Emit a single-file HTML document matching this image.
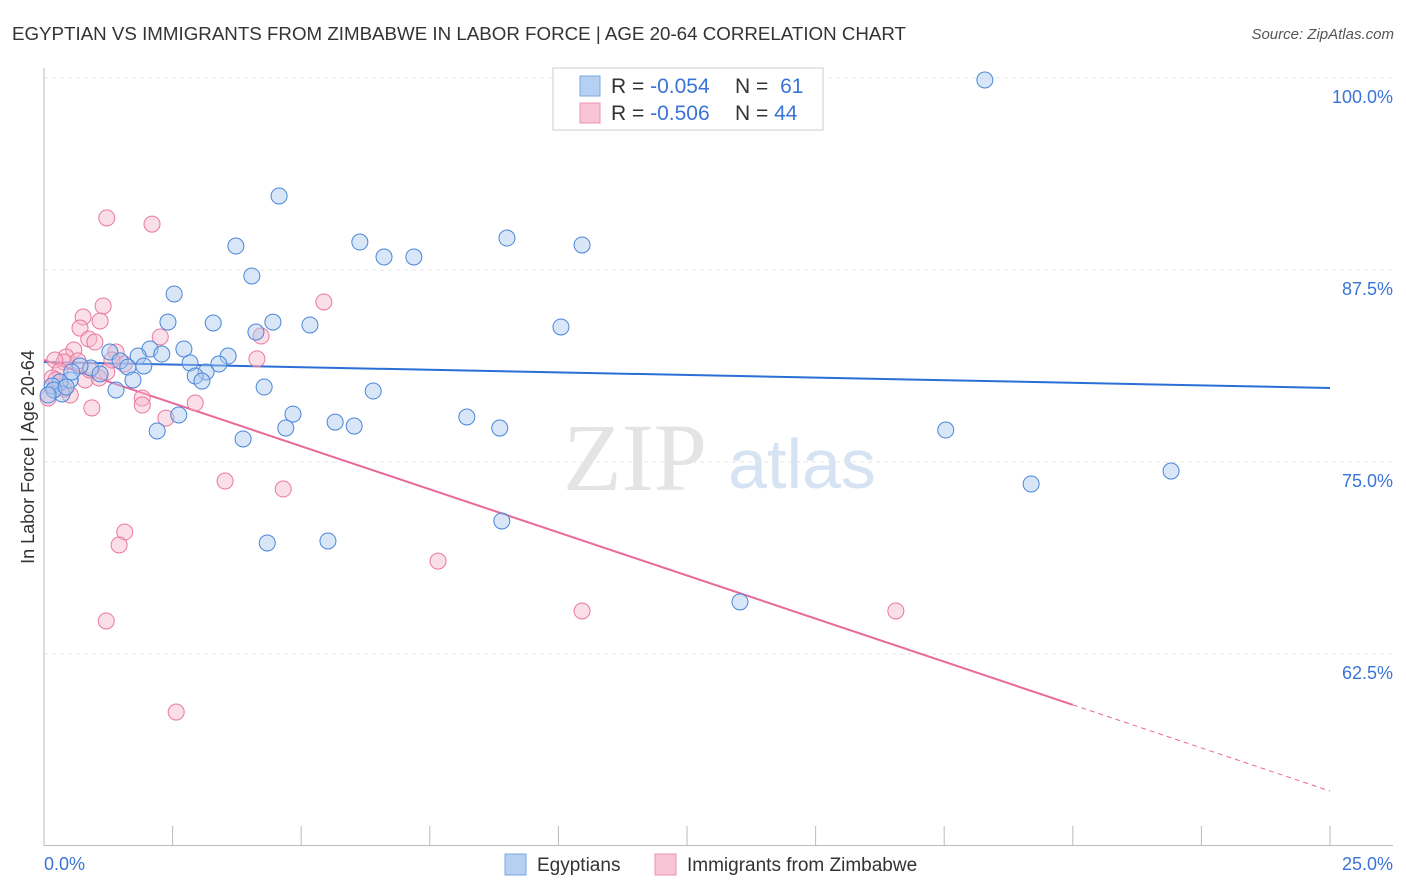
<!DOCTYPE html>
<html><head><meta charset="utf-8">
<style>
body{margin:0;background:#fff;font-family:"Liberation Sans",sans-serif;}
#wrap{position:relative;width:1406px;height:892px;overflow:hidden;}
</style></head>
<body>
<div id="wrap">
<svg id="chart" width="1406" height="892" xmlns="http://www.w3.org/2000/svg">
  <text x="12" y="40" font-size="18" fill="#333" textLength="894" lengthAdjust="spacingAndGlyphs">EGYPTIAN VS IMMIGRANTS FROM ZIMBABWE IN LABOR FORCE | AGE 20-64 CORRELATION CHART</text>
  <text x="1394" y="39" font-size="15" fill="#555" font-style="italic" text-anchor="end">Source: ZipAtlas.com</text>
  <g>
    <text x="635" y="490" font-size="96" fill="#e4e4e4" font-family="Liberation Serif,serif" text-anchor="middle">ZIP</text>
    <text x="802" y="488" font-size="70" fill="#d6e3f3" text-anchor="middle">atlas</text>
  </g>
  <g id="grid"></g>
  <g id="axes"></g>
  <g id="lines"></g>
  <g id="pts"></g>
  <text transform="translate(34,457) rotate(-90)" font-size="18" fill="#333" text-anchor="middle">In Labor Force | Age 20-64</text>
  <g>
    <rect x="553" y="68" width="270" height="62" fill="#fff" stroke="#ccc"/>
    <rect x="580" y="76" width="20" height="20" fill="#b5d0f2" stroke="#7ba7e0"/>
    <rect x="580" y="103" width="20" height="20" fill="#f9c5d6" stroke="#eb93b1"/>
    <text x="611" y="93" font-size="21" fill="#333">R = <tspan fill="#3a74d6">-0.054</tspan></text>
    <text x="735" y="93" font-size="21" fill="#333">N = <tspan fill="#3a74d6" dx="6">61</tspan></text>
    <text x="611" y="120" font-size="21" fill="#333">R = <tspan fill="#3a74d6">-0.506</tspan></text>
    <text x="735" y="120" font-size="21" fill="#333">N = <tspan fill="#3a74d6">44</tspan></text>
  </g>
  <g>
    <rect x="505" y="854" width="21" height="21" fill="#b5d0f2" stroke="#7ba7e0"/>
    <text x="537" y="871" font-size="19" fill="#333">Egyptians</text>
    <rect x="655" y="854" width="21" height="21" fill="#f9c5d6" stroke="#eb93b1"/>
    <text x="687" y="871" font-size="19" fill="#333">Immigrants from Zimbabwe</text>
  </g>
</svg>
</div>
<script>
const blueX=[18.29,4.57,3.73,6.14,9.00,10.46,6.61,7.19,4.04,2.53,2.41,3.29,4.45,5.17,10.05,4.12,2.06,2.72,1.28,1.83,2.29,3.58,2.84,3.40,1.48,1.94,0.91,1.63,1.09,3.15,2.94,3.07,1.73,0.51,0.31,0.16,1.40,4.28,6.40,0.35,0.19,4.84,5.66,6.03,4.70,2.62,2.20,8.22,8.86,3.87,17.53,21.91,19.19,8.90,4.34,5.52,13.53,0.08,0.70,0.54,0.43];
const blueY=[99.87,92.32,89.06,89.32,89.58,89.13,88.35,88.35,87.11,85.94,84.11,84.05,84.11,83.92,83.79,83.46,82.36,82.36,82.16,81.90,82.03,81.90,81.45,81.38,81.58,81.25,81.12,81.18,80.73,80.86,80.60,80.27,80.34,80.34,80.21,79.95,79.69,79.88,79.62,79.43,79.69,78.12,77.60,77.34,77.21,78.06,77.02,77.93,77.21,76.50,77.08,74.41,73.57,71.16,69.73,69.86,65.89,79.36,81.25,80.86,79.88];
const pinkX=[1.22,2.10,5.44,1.15,0.76,1.09,0.70,2.26,4.22,0.87,0.99,0.58,0.43,1.40,0.39,0.66,0.21,1.56,4.14,1.22,0.31,0.16,0.80,1.07,1.91,2.94,0.93,2.37,3.52,4.65,1.57,1.46,7.66,10.46,16.56,1.21,2.57,0.08,1.91,0.51,1.32,0.23,0.39,0.89];
const pinkY=[90.89,90.49,85.42,85.16,84.44,84.18,83.72,83.14,83.20,83.01,82.81,82.29,81.84,82.16,81.51,81.58,81.64,81.38,81.71,80.86,80.92,80.47,80.34,80.47,79.17,78.84,78.52,77.86,73.76,73.24,70.44,69.60,68.55,65.30,65.30,64.65,58.72,79.17,78.71,79.36,81.64,80.34,79.75,80.99];
const blueTrend=[81.51,79.82];
const pinkTrend=[81.64,53.58];
const pinkSolidEnd=20.0;
const yTicks=[100,87.5,75,62.5];
const yTickLabels=["100.0%","87.5%","75.0%","62.5%"];
const xTicks=[0,2.5,5,7.5,10,12.5,15,17.5,20,22.5,25];

const NS="http://www.w3.org/2000/svg";
const sx=v=>44+v*(1286/25);
const sy=v=>78+(100-v)*15.36;
function mk(p,tag,attrs){const e=document.createElementNS(NS,tag);for(const k in attrs)e.setAttribute(k,attrs[k]);p.appendChild(e);return e;}
const grid=document.getElementById('grid'),axes=document.getElementById('axes'),lines=document.getElementById('lines'),pts=document.getElementById('pts');
yTicks.forEach((t,i)=>{
  const l=mk(grid,'line',{x1:44,x2:1393,y1:sy(t),y2:sy(t),stroke:'#e6e6e6','stroke-dasharray':'4,4'});
  
  
  const tx=mk(axes,'text',{x:1393,y:sy(t)+25,'font-size':18,fill:'#3a74d6','text-anchor':'end'});
  tx.textContent=yTickLabels[i];
  
  
});
mk(axes,'line',{x1:44,x2:44,y1:68,y2:846,stroke:'#bbb'});
mk(axes,'line',{x1:44,x2:1393,y1:845.5,y2:845.5,stroke:'#bbb'});
xTicks.forEach(t=>{
  const l=mk(axes,'line',{x1:sx(t),x2:sx(t),y1:826,y2:846,stroke:'#bbb'});
  
  
});
const xl0=mk(axes,'text',{x:44,y:870,'font-size':18,fill:'#3a74d6'});xl0.textContent='0.0%';


const xl1=mk(axes,'text',{x:1393,y:870,'font-size':18,fill:'#3a74d6','text-anchor':'end'});xl1.textContent='25.0%';



function drawPts(X,Y,fill,stroke,name){
  X.forEach((x,i)=>{
    const c=mk(pts,'circle',{cx:sx(x),cy:sy(Y[i]),r:8,fill:fill,'fill-opacity':0.45,stroke:stroke,'stroke-width':1});
    
    
  });
}
drawPts(pinkX,pinkY,'#f7b9cd','#e9789f','zimbabwe-point');
drawPts(blueX,blueY,'#a9c8f0','#4a86d8','egyptian-point');

const bl=mk(lines,'line',{x1:sx(0),y1:sy(blueTrend[0]),x2:sx(25),y2:sy(blueTrend[1]),stroke:'#2a6fd6','stroke-width':2});


const pAt=x=>pinkTrend[0]+(pinkTrend[1]-pinkTrend[0])*x/25;
const pl=mk(lines,'line',{x1:sx(0),y1:sy(pinkTrend[0]),x2:sx(pinkSolidEnd),y2:sy(pAt(pinkSolidEnd)),stroke:'#e8699a','stroke-width':2});


const pd=mk(lines,'line',{x1:sx(pinkSolidEnd),y1:sy(pAt(pinkSolidEnd)),x2:sx(25),y2:sy(pinkTrend[1]),stroke:'#e8699a','stroke-width':1,'stroke-dasharray':'5,4'});


</script>
</body></html>
